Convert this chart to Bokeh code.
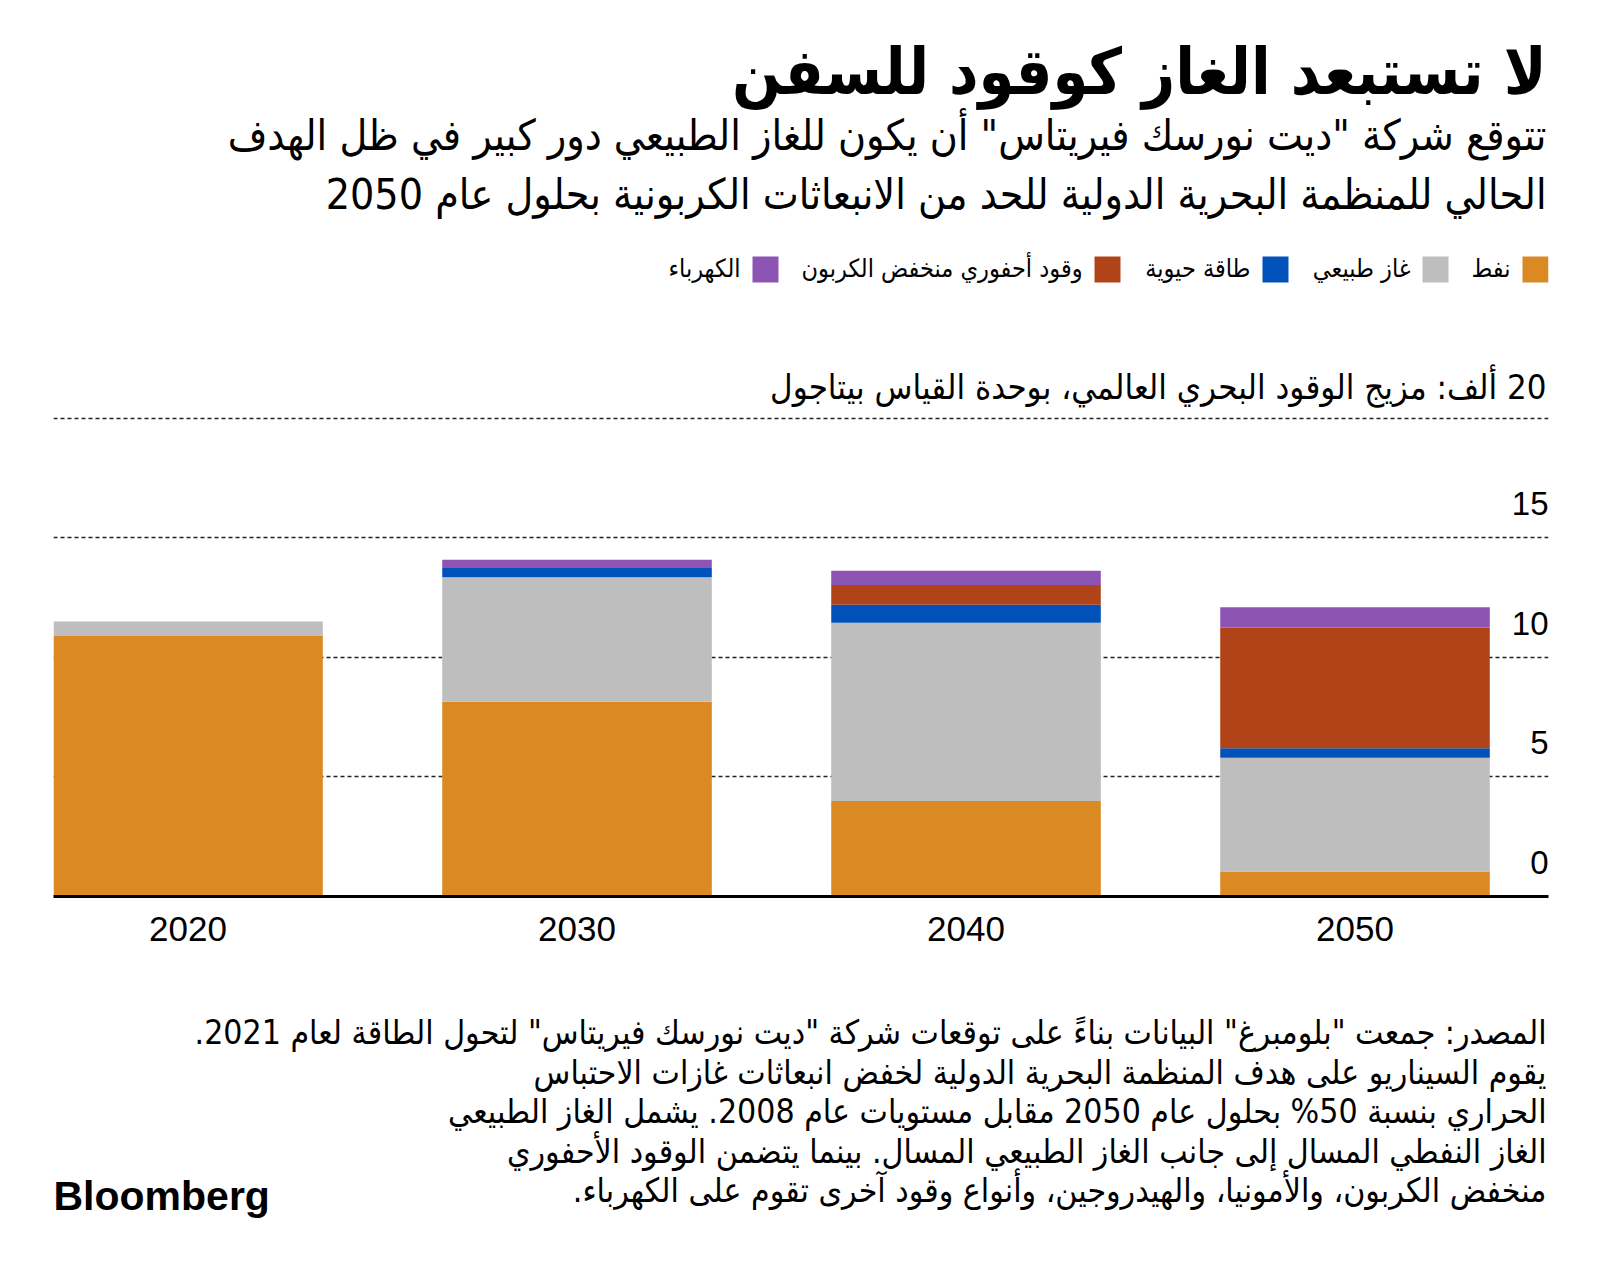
from bokeh.plotting import figure
from bokeh.layouts import column
from bokeh.models import Range1d, FixedTicker, ColumnDataSource, Grid
from bokeh.core.properties import value
from bokeh.embed import file_html
from bokeh.resources import INLINE

# ---------------- data ----------------
years = ["2020", "2030", "2040", "2050"]
oil = [10.9, 8.15, 4.0, 1.05]
gas = [0.6, 5.2, 7.45, 4.75]
bio = [0.0, 0.42, 0.75, 0.4]
lowcarbon = [0.0, 0.0, 0.83, 5.05]
electricity = [0.0, 0.32, 0.6, 0.85]

series_keys = ["oil", "gas", "bio", "lowcarbon", "electricity"]
series_labels = ["نفط", "غاز طبيعي", "طاقة حيوية", "وقود أحفوري منخفض الكربون", "الكهرباء"]
colors = ["#DA8923", "#BEBEBE", "#0052BA", "#B04418", "#8E54B4"]

grid_ticks = [5, 10, 15, 20]
y_label_ticks = [0, 5, 10, 15]
y_tick_labels = ["0", "5", "10", "15"]

title_text = "لا تستبعد الغاز كوقود للسفن"
subtitle_lines = [
    "تتوقع شركة \"ديت نورسك فيريتاس\" أن يكون للغاز الطبيعي دور كبير في ظل الهدف",
    "الحالي للمنظمة البحرية الدولية للحد من الانبعاثات الكربونية بحلول عام 2050",
]
y_title = "20 ألف: مزيج الوقود البحري العالمي، بوحدة القياس بيتاجول"
footnote_lines = [
    "المصدر: جمعت \"بلومبرغ\" البيانات بناءً على توقعات شركة \"ديت نورسك فيريتاس\" لتحول الطاقة لعام 2021.",
    "يقوم السيناريو على هدف المنظمة البحرية الدولية لخفض انبعاثات غازات الاحتباس",
    "الحراري بنسبة 50% بحلول عام 2050 مقابل مستويات عام 2008. يشمل الغاز الطبيعي",
    "الغاز النفطي المسال إلى جانب الغاز الطبيعي المسال. بينما يتضمن الوقود الأحفوري",
    "منخفض الكربون، والأمونيا، والهيدروجين، وأنواع وقود آخرى تقوم على الكهرباء.",
]
brand = "Bloomberg"

# ---------------- style ----------------
AR_FONT = "DejaVu Sans Condensed"
NUM_FONT = "Liberation Sans"
W = 1600
LEFT_B, RIGHT_B = 53, 52
X0, X1 = LEFT_B, W - RIGHT_B
HEAD_H = 410
CHART_H = 575
FOOT_H = 1275 - HEAD_H - CHART_H
RIGHT = 1546


def rtl(s):
    return "\u202b" + s + "\u202c"


def blank(height):
    f = figure(width=W, height=height, x_range=Range1d(X0, X1), y_range=Range1d(height, 0),
               x_axis_location=None, y_axis_location=None, toolbar_location=None,
               output_backend="svg", min_border_left=LEFT_B, min_border_right=RIGHT_B,
               min_border_top=0, min_border_bottom=0, outline_line_color=None,
               background_fill_color="white", border_fill_color="white")
    f.grid.visible = False
    return f


# ---------------- header ----------------
head = blank(HEAD_H)
head.text(x=[RIGHT], y=[71], text=[rtl(title_text)], text_font=value(AR_FONT),
          text_font_style="bold", text_font_size="64px", text_align="right",
          text_baseline="alphabetic", text_color="#000000")
head.text(x=[RIGHT, RIGHT], y=[135, 194], text=[rtl(s) for s in subtitle_lines],
          text_font=value(AR_FONT), text_font_size="42.5px", text_align="right",
          text_baseline="alphabetic", text_color="#000000")

SW = 26
sw_right = [1548, 1448, 1288, 1120, 778]
head.rect(x=[r - SW / 2 for r in sw_right], y=[269] * len(sw_right), width=SW, height=SW,
          fill_color=colors, line_color=None)
head.text(x=[r - SW - 12 for r in sw_right], y=[268] * len(sw_right),
          text=[rtl(s) for s in series_labels], text_font=value(AR_FONT),
          text_font_size="25px", text_align="right", text_baseline="alphabetic",
          text_color="#000000")

head.text(x=[RIGHT], y=[386], text=[rtl(y_title)], text_font=value(AR_FONT),
          text_font_size="34.5px", text_align="right", text_baseline="alphabetic",
          text_color="#000000")

# ---------------- chart ----------------
x_idx = list(range(len(years)))
x_start, x_end = -0.3458, 3.4974
chart = figure(width=W, height=CHART_H, x_range=Range1d(x_start, x_end), y_range=Range1d(0, 20.33),
               y_axis_location=None, toolbar_location=None, output_backend="svg",
               min_border_left=LEFT_B, min_border_right=RIGHT_B, min_border_top=0,
               min_border_bottom=89, outline_line_color=None,
               background_fill_color="white", border_fill_color="white")
chart.xgrid.visible = False
chart.ygrid.visible = False
chart.add_layout(Grid(dimension=1, ticker=FixedTicker(ticks=grid_ticks),
                      grid_line_color="#222222", grid_line_width=1.5, grid_line_dash="4 3"))

src = ColumnDataSource(dict(x=x_idx, oil=oil, gas=gas, bio=bio, lowcarbon=lowcarbon,
                            electricity=electricity))
chart.vbar_stack(series_keys, x="x", width=0.693, fill_color=colors, line_color=None, source=src)

chart.text(x=[x_end] * len(y_label_ticks), y=y_label_ticks, text=y_tick_labels,
           text_font=value(NUM_FONT), text_font_size="33px", text_align="right",
           text_baseline="alphabetic", y_offset=-34, text_color="#000000")

xa = chart.xaxis[0]
xa.ticker = FixedTicker(ticks=x_idx)
xa.major_label_overrides = {i: y for i, y in zip(x_idx, years)}
xa.axis_line_color = "#000000"
xa.axis_line_width = 3
xa.major_tick_line_color = None
xa.minor_tick_line_color = None
xa.major_label_text_font = NUM_FONT
xa.major_label_text_font_size = "35px"
xa.major_label_text_color = "#000000"
xa.major_label_standoff = 14

# ---------------- footer ----------------
foot = blank(FOOT_H)
foot.text(x=[RIGHT] * len(footnote_lines), y=[47 + 39.5 * i for i in range(len(footnote_lines))],
          text=[rtl(s) for s in footnote_lines], text_font=value(AR_FONT),
          text_font_size="33.5px", text_align="right", text_baseline="alphabetic",
          text_color="#000000")
foot.text(x=[X0], y=[210], text=[brand], text_font=value(NUM_FONT), text_font_style="bold",
          text_font_size="41px", text_align="left", text_baseline="alphabetic",
          text_color="#000000")

layout = column(head, chart, foot, spacing=0)
open("out.html", "w").write(file_html(layout, INLINE))
